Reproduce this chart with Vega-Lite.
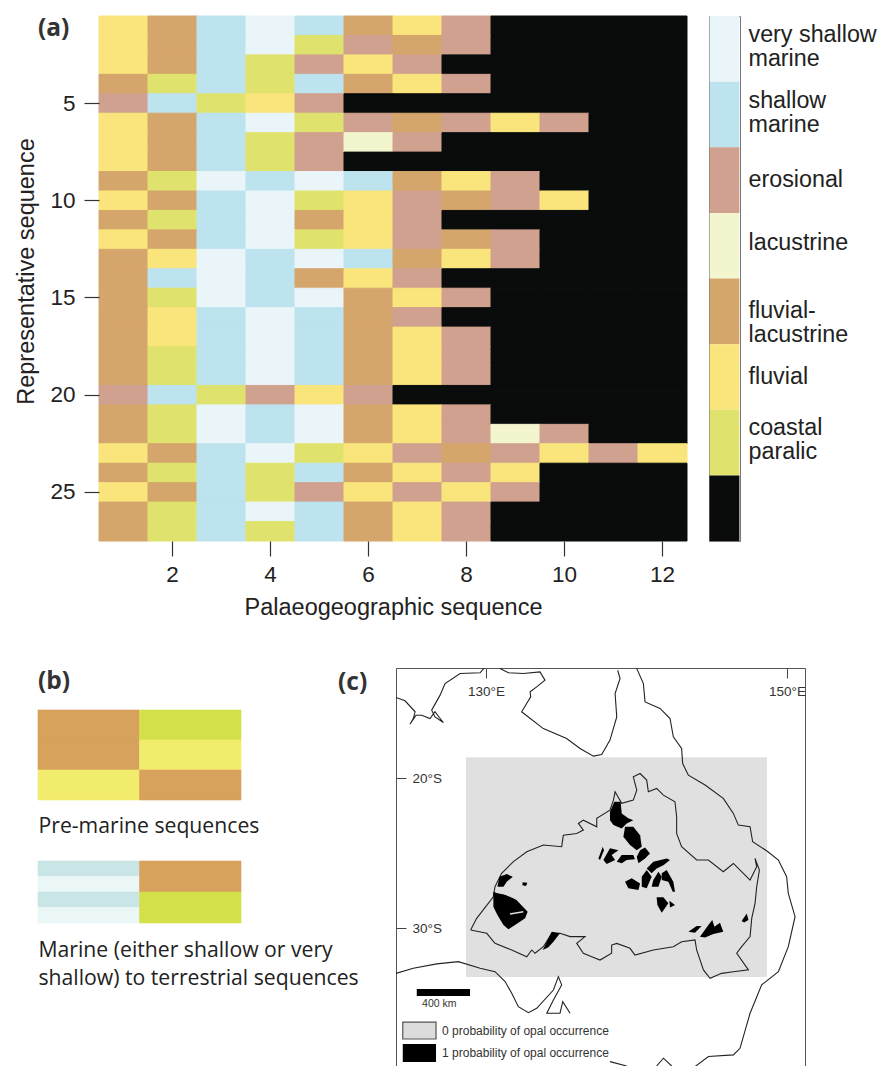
{"$schema":"https://vega.github.io/schema/vega-lite/v6.json","background":"white","padding":{"left":14,"top":15,"right":0,"bottom":0},"spacing":48,"config":{"view":{"stroke":null},"font":"Liberation Sans"},
"datasets":{"heat":[
{"x":1,"y":1,"c":"Y"},{"x":2,"y":1,"c":"T"},{"x":3,"y":1,"c":"S"},{"x":4,"y":1,"c":"V"},{"x":5,"y":1,"c":"S"},{"x":6,"y":1,"c":"T"},{"x":7,"y":1,"c":"Y"},{"x":8,"y":1,"c":"E"},{"x":9,"y":1,"c":"K"},{"x":10,"y":1,"c":"K"},{"x":11,"y":1,"c":"K"},{"x":12,"y":1,"c":"K"},
{"x":1,"y":2,"c":"Y"},{"x":2,"y":2,"c":"T"},{"x":3,"y":2,"c":"S"},{"x":4,"y":2,"c":"V"},{"x":5,"y":2,"c":"C"},{"x":6,"y":2,"c":"E"},{"x":7,"y":2,"c":"T"},{"x":8,"y":2,"c":"E"},{"x":9,"y":2,"c":"K"},{"x":10,"y":2,"c":"K"},{"x":11,"y":2,"c":"K"},{"x":12,"y":2,"c":"K"},
{"x":1,"y":3,"c":"Y"},{"x":2,"y":3,"c":"T"},{"x":3,"y":3,"c":"S"},{"x":4,"y":3,"c":"C"},{"x":5,"y":3,"c":"E"},{"x":6,"y":3,"c":"Y"},{"x":7,"y":3,"c":"E"},{"x":8,"y":3,"c":"K"},{"x":9,"y":3,"c":"K"},{"x":10,"y":3,"c":"K"},{"x":11,"y":3,"c":"K"},{"x":12,"y":3,"c":"K"},
{"x":1,"y":4,"c":"T"},{"x":2,"y":4,"c":"C"},{"x":3,"y":4,"c":"S"},{"x":4,"y":4,"c":"C"},{"x":5,"y":4,"c":"S"},{"x":6,"y":4,"c":"T"},{"x":7,"y":4,"c":"Y"},{"x":8,"y":4,"c":"E"},{"x":9,"y":4,"c":"K"},{"x":10,"y":4,"c":"K"},{"x":11,"y":4,"c":"K"},{"x":12,"y":4,"c":"K"},
{"x":1,"y":5,"c":"E"},{"x":2,"y":5,"c":"S"},{"x":3,"y":5,"c":"C"},{"x":4,"y":5,"c":"Y"},{"x":5,"y":5,"c":"E"},{"x":6,"y":5,"c":"K"},{"x":7,"y":5,"c":"K"},{"x":8,"y":5,"c":"K"},{"x":9,"y":5,"c":"K"},{"x":10,"y":5,"c":"K"},{"x":11,"y":5,"c":"K"},{"x":12,"y":5,"c":"K"},
{"x":1,"y":6,"c":"Y"},{"x":2,"y":6,"c":"T"},{"x":3,"y":6,"c":"S"},{"x":4,"y":6,"c":"V"},{"x":5,"y":6,"c":"C"},{"x":6,"y":6,"c":"E"},{"x":7,"y":6,"c":"T"},{"x":8,"y":6,"c":"E"},{"x":9,"y":6,"c":"Y"},{"x":10,"y":6,"c":"E"},{"x":11,"y":6,"c":"K"},{"x":12,"y":6,"c":"K"},
{"x":1,"y":7,"c":"Y"},{"x":2,"y":7,"c":"T"},{"x":3,"y":7,"c":"S"},{"x":4,"y":7,"c":"C"},{"x":5,"y":7,"c":"E"},{"x":6,"y":7,"c":"L"},{"x":7,"y":7,"c":"E"},{"x":8,"y":7,"c":"K"},{"x":9,"y":7,"c":"K"},{"x":10,"y":7,"c":"K"},{"x":11,"y":7,"c":"K"},{"x":12,"y":7,"c":"K"},
{"x":1,"y":8,"c":"Y"},{"x":2,"y":8,"c":"T"},{"x":3,"y":8,"c":"S"},{"x":4,"y":8,"c":"C"},{"x":5,"y":8,"c":"E"},{"x":6,"y":8,"c":"K"},{"x":7,"y":8,"c":"K"},{"x":8,"y":8,"c":"K"},{"x":9,"y":8,"c":"K"},{"x":10,"y":8,"c":"K"},{"x":11,"y":8,"c":"K"},{"x":12,"y":8,"c":"K"},
{"x":1,"y":9,"c":"T"},{"x":2,"y":9,"c":"C"},{"x":3,"y":9,"c":"V"},{"x":4,"y":9,"c":"S"},{"x":5,"y":9,"c":"V"},{"x":6,"y":9,"c":"S"},{"x":7,"y":9,"c":"T"},{"x":8,"y":9,"c":"Y"},{"x":9,"y":9,"c":"E"},{"x":10,"y":9,"c":"K"},{"x":11,"y":9,"c":"K"},{"x":12,"y":9,"c":"K"},
{"x":1,"y":10,"c":"Y"},{"x":2,"y":10,"c":"T"},{"x":3,"y":10,"c":"S"},{"x":4,"y":10,"c":"V"},{"x":5,"y":10,"c":"C"},{"x":6,"y":10,"c":"Y"},{"x":7,"y":10,"c":"E"},{"x":8,"y":10,"c":"T"},{"x":9,"y":10,"c":"E"},{"x":10,"y":10,"c":"Y"},{"x":11,"y":10,"c":"K"},{"x":12,"y":10,"c":"K"},
{"x":1,"y":11,"c":"T"},{"x":2,"y":11,"c":"C"},{"x":3,"y":11,"c":"S"},{"x":4,"y":11,"c":"V"},{"x":5,"y":11,"c":"T"},{"x":6,"y":11,"c":"Y"},{"x":7,"y":11,"c":"E"},{"x":8,"y":11,"c":"K"},{"x":9,"y":11,"c":"K"},{"x":10,"y":11,"c":"K"},{"x":11,"y":11,"c":"K"},{"x":12,"y":11,"c":"K"},
{"x":1,"y":12,"c":"Y"},{"x":2,"y":12,"c":"T"},{"x":3,"y":12,"c":"S"},{"x":4,"y":12,"c":"V"},{"x":5,"y":12,"c":"C"},{"x":6,"y":12,"c":"Y"},{"x":7,"y":12,"c":"E"},{"x":8,"y":12,"c":"T"},{"x":9,"y":12,"c":"E"},{"x":10,"y":12,"c":"K"},{"x":11,"y":12,"c":"K"},{"x":12,"y":12,"c":"K"},
{"x":1,"y":13,"c":"T"},{"x":2,"y":13,"c":"Y"},{"x":3,"y":13,"c":"V"},{"x":4,"y":13,"c":"S"},{"x":5,"y":13,"c":"V"},{"x":6,"y":13,"c":"S"},{"x":7,"y":13,"c":"T"},{"x":8,"y":13,"c":"Y"},{"x":9,"y":13,"c":"E"},{"x":10,"y":13,"c":"K"},{"x":11,"y":13,"c":"K"},{"x":12,"y":13,"c":"K"},
{"x":1,"y":14,"c":"T"},{"x":2,"y":14,"c":"S"},{"x":3,"y":14,"c":"V"},{"x":4,"y":14,"c":"S"},{"x":5,"y":14,"c":"T"},{"x":6,"y":14,"c":"Y"},{"x":7,"y":14,"c":"E"},{"x":8,"y":14,"c":"K"},{"x":9,"y":14,"c":"K"},{"x":10,"y":14,"c":"K"},{"x":11,"y":14,"c":"K"},{"x":12,"y":14,"c":"K"},
{"x":1,"y":15,"c":"T"},{"x":2,"y":15,"c":"C"},{"x":3,"y":15,"c":"V"},{"x":4,"y":15,"c":"S"},{"x":5,"y":15,"c":"V"},{"x":6,"y":15,"c":"T"},{"x":7,"y":15,"c":"Y"},{"x":8,"y":15,"c":"E"},{"x":9,"y":15,"c":"K"},{"x":10,"y":15,"c":"K"},{"x":11,"y":15,"c":"K"},{"x":12,"y":15,"c":"K"},
{"x":1,"y":16,"c":"T"},{"x":2,"y":16,"c":"Y"},{"x":3,"y":16,"c":"S"},{"x":4,"y":16,"c":"V"},{"x":5,"y":16,"c":"S"},{"x":6,"y":16,"c":"T"},{"x":7,"y":16,"c":"E"},{"x":8,"y":16,"c":"K"},{"x":9,"y":16,"c":"K"},{"x":10,"y":16,"c":"K"},{"x":11,"y":16,"c":"K"},{"x":12,"y":16,"c":"K"},
{"x":1,"y":17,"c":"T"},{"x":2,"y":17,"c":"Y"},{"x":3,"y":17,"c":"S"},{"x":4,"y":17,"c":"V"},{"x":5,"y":17,"c":"S"},{"x":6,"y":17,"c":"T"},{"x":7,"y":17,"c":"Y"},{"x":8,"y":17,"c":"E"},{"x":9,"y":17,"c":"K"},{"x":10,"y":17,"c":"K"},{"x":11,"y":17,"c":"K"},{"x":12,"y":17,"c":"K"},
{"x":1,"y":18,"c":"T"},{"x":2,"y":18,"c":"C"},{"x":3,"y":18,"c":"S"},{"x":4,"y":18,"c":"V"},{"x":5,"y":18,"c":"S"},{"x":6,"y":18,"c":"T"},{"x":7,"y":18,"c":"Y"},{"x":8,"y":18,"c":"E"},{"x":9,"y":18,"c":"K"},{"x":10,"y":18,"c":"K"},{"x":11,"y":18,"c":"K"},{"x":12,"y":18,"c":"K"},
{"x":1,"y":19,"c":"T"},{"x":2,"y":19,"c":"C"},{"x":3,"y":19,"c":"S"},{"x":4,"y":19,"c":"V"},{"x":5,"y":19,"c":"S"},{"x":6,"y":19,"c":"T"},{"x":7,"y":19,"c":"Y"},{"x":8,"y":19,"c":"E"},{"x":9,"y":19,"c":"K"},{"x":10,"y":19,"c":"K"},{"x":11,"y":19,"c":"K"},{"x":12,"y":19,"c":"K"},
{"x":1,"y":20,"c":"E"},{"x":2,"y":20,"c":"S"},{"x":3,"y":20,"c":"C"},{"x":4,"y":20,"c":"E"},{"x":5,"y":20,"c":"Y"},{"x":6,"y":20,"c":"E"},{"x":7,"y":20,"c":"K"},{"x":8,"y":20,"c":"K"},{"x":9,"y":20,"c":"K"},{"x":10,"y":20,"c":"K"},{"x":11,"y":20,"c":"K"},{"x":12,"y":20,"c":"K"},
{"x":1,"y":21,"c":"T"},{"x":2,"y":21,"c":"C"},{"x":3,"y":21,"c":"V"},{"x":4,"y":21,"c":"S"},{"x":5,"y":21,"c":"V"},{"x":6,"y":21,"c":"T"},{"x":7,"y":21,"c":"Y"},{"x":8,"y":21,"c":"E"},{"x":9,"y":21,"c":"K"},{"x":10,"y":21,"c":"K"},{"x":11,"y":21,"c":"K"},{"x":12,"y":21,"c":"K"},
{"x":1,"y":22,"c":"T"},{"x":2,"y":22,"c":"C"},{"x":3,"y":22,"c":"V"},{"x":4,"y":22,"c":"S"},{"x":5,"y":22,"c":"V"},{"x":6,"y":22,"c":"T"},{"x":7,"y":22,"c":"Y"},{"x":8,"y":22,"c":"E"},{"x":9,"y":22,"c":"L"},{"x":10,"y":22,"c":"E"},{"x":11,"y":22,"c":"K"},{"x":12,"y":22,"c":"K"},
{"x":1,"y":23,"c":"Y"},{"x":2,"y":23,"c":"T"},{"x":3,"y":23,"c":"S"},{"x":4,"y":23,"c":"V"},{"x":5,"y":23,"c":"C"},{"x":6,"y":23,"c":"Y"},{"x":7,"y":23,"c":"E"},{"x":8,"y":23,"c":"T"},{"x":9,"y":23,"c":"E"},{"x":10,"y":23,"c":"Y"},{"x":11,"y":23,"c":"E"},{"x":12,"y":23,"c":"Y"},
{"x":1,"y":24,"c":"T"},{"x":2,"y":24,"c":"C"},{"x":3,"y":24,"c":"S"},{"x":4,"y":24,"c":"C"},{"x":5,"y":24,"c":"S"},{"x":6,"y":24,"c":"T"},{"x":7,"y":24,"c":"Y"},{"x":8,"y":24,"c":"E"},{"x":9,"y":24,"c":"Y"},{"x":10,"y":24,"c":"K"},{"x":11,"y":24,"c":"K"},{"x":12,"y":24,"c":"K"},
{"x":1,"y":25,"c":"Y"},{"x":2,"y":25,"c":"T"},{"x":3,"y":25,"c":"S"},{"x":4,"y":25,"c":"C"},{"x":5,"y":25,"c":"E"},{"x":6,"y":25,"c":"Y"},{"x":7,"y":25,"c":"E"},{"x":8,"y":25,"c":"Y"},{"x":9,"y":25,"c":"E"},{"x":10,"y":25,"c":"K"},{"x":11,"y":25,"c":"K"},{"x":12,"y":25,"c":"K"},
{"x":1,"y":26,"c":"T"},{"x":2,"y":26,"c":"C"},{"x":3,"y":26,"c":"S"},{"x":4,"y":26,"c":"V"},{"x":5,"y":26,"c":"S"},{"x":6,"y":26,"c":"T"},{"x":7,"y":26,"c":"Y"},{"x":8,"y":26,"c":"E"},{"x":9,"y":26,"c":"K"},{"x":10,"y":26,"c":"K"},{"x":11,"y":26,"c":"K"},{"x":12,"y":26,"c":"K"},
{"x":1,"y":27,"c":"T"},{"x":2,"y":27,"c":"C"},{"x":3,"y":27,"c":"S"},{"x":4,"y":27,"c":"C"},{"x":5,"y":27,"c":"S"},{"x":6,"y":27,"c":"T"},{"x":7,"y":27,"c":"Y"},{"x":8,"y":27,"c":"E"},{"x":9,"y":27,"c":"K"},{"x":10,"y":27,"c":"K"},{"x":11,"y":27,"c":"K"},{"x":12,"y":27,"c":"K"}
],
"lines":[
{"s":"a","i":1,"lon":124.02,"lat":-14.62},{"s":"a","i":2,"lon":124.62,"lat":-14.84},{"s":"a","i":3,"lon":125.29,"lat":-15.57},{"s":"a","i":4,"lon":125.17,"lat":-16.02},{"s":"a","i":5,"lon":124.95,"lat":-16.4},{"s":"a","i":6,"lon":125.35,"lat":-15.8},{"s":"a","i":7,"lon":125.73,"lat":-15.8},{"s":"a","i":8,"lon":126.28,"lat":-16.02},{"s":"a","i":9,"lon":126.61,"lat":-15.57},{"s":"a","i":10,"lon":126.9,"lat":-15.95},{"s":"a","i":11,"lon":127.17,"lat":-16.29},{"s":"a","i":12,"lon":126.61,"lat":-15.91},{"s":"a","i":13,"lon":126.39,"lat":-15.46},{"s":"a","i":14,"lon":126.95,"lat":-14.46},{"s":"a","i":15,"lon":127.28,"lat":-13.69},{"s":"a","i":16,"lon":128.28,"lat":-13.02},{"s":"a","i":17,"lon":129.61,"lat":-12.97},{"s":"a","i":18,"lon":129.87,"lat":-12.66},
{"s":"b","i":1,"lon":130.93,"lat":-12.69},{"s":"b","i":2,"lon":131.49,"lat":-12.97},{"s":"b","i":3,"lon":132.48,"lat":-13.02},{"s":"b","i":4,"lon":133.59,"lat":-12.91},{"s":"b","i":5,"lon":133.92,"lat":-13.46},{"s":"b","i":6,"lon":133.37,"lat":-13.91},{"s":"b","i":7,"lon":132.93,"lat":-14.24},{"s":"b","i":8,"lon":132.97,"lat":-14.57},{"s":"b","i":9,"lon":132.37,"lat":-15.57},{"s":"b","i":10,"lon":133.81,"lat":-16.69},{"s":"b","i":11,"lon":135.36,"lat":-17.35},{"s":"b","i":12,"lon":136.25,"lat":-18.02},{"s":"b","i":13,"lon":137.14,"lat":-18.53},{"s":"b","i":14,"lon":137.69,"lat":-18.42},{"s":"b","i":15,"lon":138.24,"lat":-17.46},{"s":"b","i":16,"lon":138.69,"lat":-15.91},{"s":"b","i":17,"lon":138.58,"lat":-14.35},{"s":"b","i":18,"lon":138.91,"lat":-13.35},{"s":"b","i":19,"lon":138.75,"lat":-12.8},
{"s":"c","i":1,"lon":140.02,"lat":-12.69},{"s":"c","i":2,"lon":140.46,"lat":-13.69},{"s":"c","i":3,"lon":140.57,"lat":-14.91},{"s":"c","i":4,"lon":141.57,"lat":-15.35},{"s":"c","i":5,"lon":142.23,"lat":-16.02},{"s":"c","i":6,"lon":142.45,"lat":-17.24},{"s":"c","i":7,"lon":143.0,"lat":-18.02},{"s":"c","i":8,"lon":143.07,"lat":-19.02},{"s":"c","i":9,"lon":143.45,"lat":-19.8},{"s":"c","i":10,"lon":144.56,"lat":-20.46},{"s":"c","i":11,"lon":145.77,"lat":-21.35},{"s":"c","i":12,"lon":146.44,"lat":-22.35},{"s":"c","i":13,"lon":146.77,"lat":-23.13},{"s":"c","i":14,"lon":147.55,"lat":-23.24},{"s":"c","i":15,"lon":147.72,"lat":-24.24},{"s":"c","i":16,"lon":148.65,"lat":-24.84},{"s":"c","i":17,"lon":149.43,"lat":-25.46},{"s":"c","i":18,"lon":149.98,"lat":-26.57},{"s":"c","i":19,"lon":150.09,"lat":-27.68},{"s":"c","i":20,"lon":150.54,"lat":-29.24},{"s":"c","i":21,"lon":150.09,"lat":-31.24},{"s":"c","i":22,"lon":149.43,"lat":-32.91},{"s":"c","i":23,"lon":148.32,"lat":-33.79},{"s":"c","i":24,"lon":147.55,"lat":-35.68},{"s":"c","i":25,"lon":146.88,"lat":-38.02},{"s":"c","i":26,"lon":146.44,"lat":-38.46},{"s":"c","i":27,"lon":144.78,"lat":-38.57},{"s":"c","i":28,"lon":143.89,"lat":-39.24},
{"s":"d","i":1,"lon":124.02,"lat":-33.02},{"s":"d","i":2,"lon":125.17,"lat":-32.68},{"s":"d","i":3,"lon":126.73,"lat":-32.39},{"s":"d","i":4,"lon":128.17,"lat":-32.24},{"s":"d","i":5,"lon":129.61,"lat":-32.68},{"s":"d","i":6,"lon":130.6,"lat":-32.91},{"s":"d","i":7,"lon":131.27,"lat":-33.57},{"s":"d","i":8,"lon":131.71,"lat":-34.35},{"s":"d","i":9,"lon":132.15,"lat":-35.24},{"s":"d","i":10,"lon":132.82,"lat":-35.64},{"s":"d","i":11,"lon":133.37,"lat":-35.35},{"s":"d","i":12,"lon":134.48,"lat":-34.13},{"s":"d","i":13,"lon":134.81,"lat":-33.24},{"s":"d","i":14,"lon":135.03,"lat":-33.79},{"s":"d","i":15,"lon":134.48,"lat":-34.8},{"s":"d","i":16,"lon":134.04,"lat":-35.68},{"s":"d","i":17,"lon":134.92,"lat":-35.68},{"s":"d","i":18,"lon":135.1,"lat":-34.91},{"s":"d","i":19,"lon":135.59,"lat":-35.68},
{"s":"e","i":1,"lon":138.24,"lat":-38.91},{"s":"e","i":2,"lon":139.35,"lat":-39.2},
{"s":"f","i":1,"lon":141.34,"lat":-39.2},{"s":"f","i":2,"lon":141.79,"lat":-38.68},{"s":"f","i":3,"lon":142.34,"lat":-39.2},
{"s":"g","i":1,"lon":128.98,"lat":-30.13},{"s":"g","i":2,"lon":129.38,"lat":-29.35},{"s":"g","i":3,"lon":130.49,"lat":-27.91},{"s":"g","i":4,"lon":130.6,"lat":-27.24},{"s":"g","i":5,"lon":131.04,"lat":-26.35},{"s":"g","i":6,"lon":131.82,"lat":-25.57},{"s":"g","i":7,"lon":132.71,"lat":-24.91},{"s":"g","i":8,"lon":133.81,"lat":-24.46},{"s":"g","i":9,"lon":135.03,"lat":-24.57},{"s":"g","i":10,"lon":135.14,"lat":-23.8},{"s":"g","i":11,"lon":136.03,"lat":-23.69},{"s":"g","i":12,"lon":136.47,"lat":-23.46},{"s":"g","i":13,"lon":136.14,"lat":-23.02},{"s":"g","i":14,"lon":136.47,"lat":-22.8},{"s":"g","i":15,"lon":137.36,"lat":-23.24},{"s":"g","i":16,"lon":137.36,"lat":-22.68},{"s":"g","i":17,"lon":138.24,"lat":-22.13},{"s":"g","i":18,"lon":138.47,"lat":-21.46},{"s":"g","i":19,"lon":138.58,"lat":-20.91},{"s":"g","i":20,"lon":139.02,"lat":-21.68},{"s":"g","i":21,"lon":139.79,"lat":-21.46},{"s":"g","i":22,"lon":140.02,"lat":-20.8},{"s":"g","i":23,"lon":139.79,"lat":-19.91},{"s":"g","i":24,"lon":140.24,"lat":-19.69},{"s":"g","i":25,"lon":140.68,"lat":-20.13},{"s":"g","i":26,"lon":140.79,"lat":-20.91},{"s":"g","i":27,"lon":141.34,"lat":-20.68},{"s":"g","i":28,"lon":141.79,"lat":-21.13},{"s":"g","i":29,"lon":142.56,"lat":-21.57},{"s":"g","i":30,"lon":142.67,"lat":-22.57},{"s":"g","i":31,"lon":142.67,"lat":-23.69},{"s":"g","i":32,"lon":143.0,"lat":-24.57},{"s":"g","i":33,"lon":144.0,"lat":-25.46},{"s":"g","i":34,"lon":144.78,"lat":-25.46},{"s":"g","i":35,"lon":145.77,"lat":-26.24},{"s":"g","i":36,"lon":146.44,"lat":-25.69},{"s":"g","i":37,"lon":147.1,"lat":-26.35},{"s":"g","i":38,"lon":147.55,"lat":-26.8},{"s":"g","i":39,"lon":147.99,"lat":-25.91},{"s":"g","i":40,"lon":147.88,"lat":-25.35},{"s":"g","i":41,"lon":148.17,"lat":-26.13},{"s":"g","i":42,"lon":147.99,"lat":-27.24},{"s":"g","i":43,"lon":147.88,"lat":-28.35},{"s":"g","i":44,"lon":147.66,"lat":-29.35},{"s":"g","i":45,"lon":147.55,"lat":-30.57},{"s":"g","i":46,"lon":146.99,"lat":-31.24},{"s":"g","i":47,"lon":146.66,"lat":-31.68},{"s":"g","i":48,"lon":147.44,"lat":-32.79},{"s":"g","i":49,"lon":146.44,"lat":-32.91},{"s":"g","i":50,"lon":145.66,"lat":-33.02},{"s":"g","i":51,"lon":144.89,"lat":-33.35},{"s":"g","i":52,"lon":144.45,"lat":-32.79},{"s":"g","i":53,"lon":144.0,"lat":-31.46},{"s":"g","i":54,"lon":143.89,"lat":-30.79},{"s":"g","i":55,"lon":143.0,"lat":-30.91},{"s":"g","i":56,"lon":142.45,"lat":-31.24},{"s":"g","i":57,"lon":141.12,"lat":-31.46},{"s":"g","i":58,"lon":139.9,"lat":-31.8},{"s":"g","i":59,"lon":139.57,"lat":-31.35},{"s":"g","i":60,"lon":138.69,"lat":-31.02},{"s":"g","i":61,"lon":138.35,"lat":-31.13},{"s":"g","i":62,"lon":138.35,"lat":-31.68},{"s":"g","i":63,"lon":137.58,"lat":-32.13},{"s":"g","i":64,"lon":137.03,"lat":-31.91},{"s":"g","i":65,"lon":136.47,"lat":-31.68},{"s":"g","i":66,"lon":136.03,"lat":-31.02},{"s":"g","i":67,"lon":136.58,"lat":-30.57},{"s":"g","i":68,"lon":135.59,"lat":-30.57},{"s":"g","i":69,"lon":134.92,"lat":-30.35},{"s":"g","i":70,"lon":134.37,"lat":-30.35},{"s":"g","i":71,"lon":133.81,"lat":-31.24},{"s":"g","i":72,"lon":133.26,"lat":-31.68},{"s":"g","i":73,"lon":133.04,"lat":-31.46},{"s":"g","i":74,"lon":132.71,"lat":-31.91},{"s":"g","i":75,"lon":131.71,"lat":-31.46},{"s":"g","i":76,"lon":130.6,"lat":-31.02},{"s":"g","i":77,"lon":130.05,"lat":-30.35},{"s":"g","i":78,"lon":128.98,"lat":-30.13}
],
"opal":[
{"s":"p1","i":1,"lon":130.49,"lat":-27.57},{"s":"p1","i":2,"lon":130.76,"lat":-27.68},{"s":"p1","i":3,"lon":131.38,"lat":-27.8},{"s":"p1","i":4,"lon":131.93,"lat":-28.02},{"s":"p1","i":5,"lon":132.77,"lat":-28.91},{"s":"p1","i":6,"lon":132.6,"lat":-29.35},{"s":"p1","i":7,"lon":131.93,"lat":-29.8},{"s":"p1","i":8,"lon":131.49,"lat":-30.08},{"s":"p1","i":9,"lon":131.16,"lat":-29.8},{"s":"p1","i":10,"lon":130.76,"lat":-29.13},{"s":"p1","i":11,"lon":130.49,"lat":-28.57},
{"s":"p2","i":1,"lon":130.89,"lat":-26.57},{"s":"p2","i":2,"lon":131.38,"lat":-26.4},{"s":"p2","i":3,"lon":131.78,"lat":-26.57},{"s":"p2","i":4,"lon":131.38,"lat":-26.91},{"s":"p2","i":5,"lon":131.16,"lat":-27.24},{"s":"p2","i":6,"lon":130.76,"lat":-27.24},
{"s":"p2b","i":1,"lon":132.44,"lat":-26.95},{"s":"p2b","i":2,"lon":132.75,"lat":-26.97},{"s":"p2b","i":3,"lon":132.66,"lat":-27.2},{"s":"p2b","i":4,"lon":132.42,"lat":-27.15},
{"s":"p3","i":1,"lon":138.24,"lat":-22.24},{"s":"p3","i":2,"lon":138.53,"lat":-21.57},{"s":"p3","i":3,"lon":138.95,"lat":-21.57},{"s":"p3","i":4,"lon":139.02,"lat":-22.35},{"s":"p3","i":5,"lon":139.46,"lat":-22.68},{"s":"p3","i":6,"lon":139.79,"lat":-22.8},{"s":"p3","i":7,"lon":139.35,"lat":-23.02},{"s":"p3","i":8,"lon":139.02,"lat":-23.35},{"s":"p3","i":9,"lon":138.47,"lat":-23.13},{"s":"p3","i":10,"lon":138.24,"lat":-22.8},
{"s":"p4","i":1,"lon":139.24,"lat":-23.24},{"s":"p4","i":2,"lon":139.79,"lat":-23.24},{"s":"p4","i":3,"lon":140.24,"lat":-23.8},{"s":"p4","i":4,"lon":140.35,"lat":-24.57},{"s":"p4","i":5,"lon":140.02,"lat":-24.8},{"s":"p4","i":6,"lon":139.57,"lat":-24.46},{"s":"p4","i":7,"lon":139.13,"lat":-23.91},
{"s":"p5","i":1,"lon":140.24,"lat":-24.8},{"s":"p5","i":2,"lon":140.57,"lat":-24.62},{"s":"p5","i":3,"lon":140.9,"lat":-25.02},{"s":"p5","i":4,"lon":140.57,"lat":-25.35},{"s":"p5","i":5,"lon":140.13,"lat":-25.68},{"s":"p5","i":6,"lon":140.02,"lat":-25.24},
{"s":"p6","i":1,"lon":137.8,"lat":-25.46},{"s":"p6","i":2,"lon":138.24,"lat":-24.68},{"s":"p6","i":3,"lon":138.8,"lat":-24.8},{"s":"p6","i":4,"lon":138.35,"lat":-25.13},{"s":"p6","i":5,"lon":138.58,"lat":-25.46},{"s":"p6","i":6,"lon":138.02,"lat":-25.73},
{"s":"p7","i":1,"lon":138.69,"lat":-25.57},{"s":"p7","i":2,"lon":139.02,"lat":-25.13},{"s":"p7","i":3,"lon":139.79,"lat":-25.13},{"s":"p7","i":4,"lon":139.9,"lat":-25.4},{"s":"p7","i":5,"lon":139.35,"lat":-25.46},{"s":"p7","i":6,"lon":139.02,"lat":-25.68},
{"s":"p8","i":1,"lon":137.47,"lat":-25.35},{"s":"p8","i":2,"lon":137.76,"lat":-24.57},{"s":"p8","i":3,"lon":137.84,"lat":-24.8},{"s":"p8","i":4,"lon":137.58,"lat":-25.46},
{"s":"p9","i":1,"lon":140.68,"lat":-26.02},{"s":"p9","i":2,"lon":141.12,"lat":-25.57},{"s":"p9","i":3,"lon":142.01,"lat":-25.35},{"s":"p9","i":4,"lon":142.23,"lat":-25.46},{"s":"p9","i":5,"lon":141.79,"lat":-25.8},{"s":"p9","i":6,"lon":141.34,"lat":-26.02},{"s":"p9","i":7,"lon":141.01,"lat":-26.35},
{"s":"p10","i":1,"lon":139.24,"lat":-26.91},{"s":"p10","i":2,"lon":139.68,"lat":-26.68},{"s":"p10","i":3,"lon":140.24,"lat":-27.02},{"s":"p10","i":4,"lon":140.13,"lat":-27.46},{"s":"p10","i":5,"lon":139.46,"lat":-27.35},
{"s":"p11","i":1,"lon":140.35,"lat":-26.57},{"s":"p11","i":2,"lon":140.68,"lat":-26.13},{"s":"p11","i":3,"lon":141.01,"lat":-26.57},{"s":"p11","i":4,"lon":140.68,"lat":-27.35},{"s":"p11","i":5,"lon":140.35,"lat":-27.24},
{"s":"p12","i":1,"lon":141.12,"lat":-26.8},{"s":"p12","i":2,"lon":141.46,"lat":-26.24},{"s":"p12","i":3,"lon":141.68,"lat":-26.57},{"s":"p12","i":4,"lon":141.46,"lat":-27.24},{"s":"p12","i":5,"lon":141.01,"lat":-27.24},
{"s":"p13","i":1,"lon":141.68,"lat":-26.35},{"s":"p13","i":2,"lon":142.01,"lat":-26.13},{"s":"p13","i":3,"lon":142.45,"lat":-26.91},{"s":"p13","i":4,"lon":142.56,"lat":-27.57},{"s":"p13","i":5,"lon":142.41,"lat":-27.57},{"s":"p13","i":6,"lon":142.12,"lat":-26.91},{"s":"p13","i":7,"lon":141.68,"lat":-26.8},
{"s":"p15","i":1,"lon":141.34,"lat":-27.95},{"s":"p15","i":2,"lon":141.79,"lat":-27.95},{"s":"p15","i":3,"lon":142.12,"lat":-28.35},{"s":"p15","i":4,"lon":141.68,"lat":-28.97},{"s":"p15","i":5,"lon":141.39,"lat":-28.46},
{"s":"p16","i":1,"lon":142.19,"lat":-28.17},{"s":"p16","i":2,"lon":142.56,"lat":-28.46},{"s":"p16","i":3,"lon":142.23,"lat":-28.62},
{"s":"p17","i":1,"lon":143.45,"lat":-30.24},{"s":"p17","i":2,"lon":144.0,"lat":-29.86},{"s":"p17","i":3,"lon":144.33,"lat":-29.86},{"s":"p17","i":4,"lon":143.89,"lat":-30.31},
{"s":"p18","i":1,"lon":144.22,"lat":-30.57},{"s":"p18","i":2,"lon":144.78,"lat":-29.8},{"s":"p18","i":3,"lon":145.04,"lat":-29.46},{"s":"p18","i":4,"lon":145.18,"lat":-29.91},{"s":"p18","i":5,"lon":145.55,"lat":-29.64},{"s":"p18","i":6,"lon":145.77,"lat":-30.24},{"s":"p18","i":7,"lon":145.11,"lat":-30.4},{"s":"p18","i":8,"lon":144.56,"lat":-30.62},
{"s":"p19","i":1,"lon":146.99,"lat":-29.53},{"s":"p19","i":2,"lon":147.33,"lat":-29.02},{"s":"p19","i":3,"lon":147.44,"lat":-29.46},{"s":"p19","i":4,"lon":147.15,"lat":-29.62},
{"s":"p20","i":1,"lon":133.77,"lat":-31.46},{"s":"p20","i":2,"lon":134.37,"lat":-30.24},{"s":"p20","i":3,"lon":134.92,"lat":-30.35},{"s":"p20","i":4,"lon":134.48,"lat":-30.91},{"s":"p20","i":5,"lon":134.15,"lat":-31.28}
]},
"vconcat":[
{"hconcat":[
{"width":61,"height":1,"data":{"values":[]},"mark":"text","encoding":{}},
{"hconcat":[
{"width":588,"height":525,"data":{"name":"heat"},"title":{"text":"(a)","anchor":"start","frame":"group","dx":-61,"dy":38,"offset":0,"baseline":"middle","font":"Open Sans","fontSize":24.5,"fontWeight":"bold","color":"#333333"},
"mark":{"type":"rect","strokeWidth":1},
"encoding":{
"x":{"field":"x","type":"ordinal","scale":{"paddingInner":0,"paddingOuter":0},"axis":{"values":[2,4,6,8,10,12],"labelAngle":0,"title":"Palaeogeographic sequence","tickSize":15,"tickColor":"#333333","tickWidth":1.2,"domain":false,"labelFontSize":22.5,"labelPadding":7,"labelColor":"#222222","titleFontSize":23.5,"titleFontWeight":"normal","titlePadding":10,"titleColor":"#222222"}},
"y":{"field":"y","type":"ordinal","scale":{"paddingInner":0,"paddingOuter":0},"axis":{"values":[5,10,15,20,25],"title":"Representative sequence","titleY":255,"tickSize":15,"tickColor":"#333333","tickWidth":1.2,"domain":false,"labelFontSize":22.5,"labelPadding":9,"labelColor":"#222222","labelAngle":0,"titleFontSize":23.5,"titleFontWeight":"normal","titlePadding":11,"titleColor":"#222222"}},
"color":{"field":"c","type":"nominal","legend":null,"scale":{"domain":["V","S","E","L","T","Y","C","K","bT","bY","bC","bS","bV"],"range":["#E9F5F8","#BDE3EE","#D0A18F","#F3F5CE","#D5A66C","#F9E57B","#DFE36D","#0A0C0C","#D7A25C","#F2EC6C","#D3E04A","#C9E5E5","#EBF6F6"]}},
"stroke":{"field":"c","type":"nominal","legend":null,"scale":{"domain":["V","S","E","L","T","Y","C","K","bT","bY","bC","bS","bV"],"range":["#E9F5F8","#BDE3EE","#D0A18F","#F3F5CE","#D5A66C","#F9E57B","#DFE36D","#0A0C0C","#D7A25C","#F2EC6C","#D3E04A","#C9E5E5","#EBF6F6"]}}
}},
{"width":31,"height":525,"view":{"stroke":"#777777","strokeWidth":1},
"data":{"values":[{"name":"very shallow marine","c":"V","k":"bar"},{"name":"shallow marine","c":"S","k":"bar"},{"name":"erosional","c":"E","k":"bar"},{"name":"lacustrine","c":"L","k":"bar"},{"name":"fluvial-lacustrine","c":"T","k":"bar"},{"name":"fluvial","c":"Y","k":"bar"},{"name":"coastal paralic","c":"C","k":"bar"},{"name":"none","c":"K","k":"bar"}]},
"mark":{"type":"rect"},
"encoding":{
"x":{"field":"k","type":"nominal","axis":null,"scale":{"paddingInner":0,"paddingOuter":0.02}},
"y":{"field":"name","type":"ordinal","sort":null,"scale":{"paddingInner":0,"paddingOuter":0},"axis":{"orient":"right","title":null,"ticks":false,"domain":false,"labelFontSize":23.3,"labelColor":"#222222","labelPadding":8,"labelLimit":200,"labelLineHeight":24,"labelAngle":0,"labelExpr":"datum.label=='none'?'':datum.label=='very shallow marine'?['very shallow','marine']:datum.label=='shallow marine'?['shallow','marine']:datum.label=='fluvial-lacustrine'?['fluvial-','lacustrine']:datum.label=='coastal paralic'?['coastal','paralic']:datum.label","labelOffset":{"condition":[{"test":"datum.label=='very shallow marine'","value":-14},{"test":"datum.label=='shallow marine'","value":-13},{"test":"datum.label=='coastal paralic'","value":-15},{"test":"datum.label=='lacustrine'","value":-3}],"value":0}}},
"color":{"field":"c","type":"nominal","legend":null,"sort":null,"scale":{"domain":["V","S","E","L","T","Y","C","K","bT","bY","bC","bS","bV"],"range":["#E9F5F8","#BDE3EE","#D0A18F","#F3F5CE","#D5A66C","#F9E57B","#DFE36D","#0A0C0C","#D7A25C","#F2EC6C","#D3E04A","#C9E5E5","#EBF6F6"]}}
}}
],"bounds":"flush","spacing":22}
],"bounds":"flush","spacing":0},
{"hconcat":[
{"vconcat":[
{"width":1,"height":42,"data":{"values":[]},"mark":"text","encoding":{}},
{"vconcat":[
{"width":203,"height":90,"title":{"text":"(b)","anchor":"start","frame":"group","offset":3,"baseline":"middle","font":"Open Sans","fontSize":24.5,"fontWeight":"bold","color":"#333333"},
"data":{"values":[{"col":1,"row":1,"c":"bT"},{"col":1,"row":2,"c":"bT"},{"col":1,"row":3,"c":"bY"},{"col":2,"row":1,"c":"bC"},{"col":2,"row":2,"c":"bY"},{"col":2,"row":3,"c":"bT"}]},
"mark":{"type":"rect","strokeWidth":0.6},
"encoding":{
"x":{"field":"col","type":"ordinal","scale":{"paddingInner":0,"paddingOuter":0},"axis":{"title":"Pre-marine sequences","labels":false,"ticks":false,"domain":false,"titleFont":"Open Sans","titleFontWeight":"normal","titleFontSize":21.2,"titleColor":"#222222","titleAnchor":"start","titleAlign":"left","titlePadding":15}},
"y":{"field":"row","type":"ordinal","axis":null,"scale":{"paddingInner":0,"paddingOuter":0}},
"color":{"field":"c","type":"nominal","legend":null},
"stroke":{"field":"c","type":"nominal","legend":null}
}},
{"width":203,"height":62,
"data":{"values":[{"col":1,"row":1,"c":"bS"},{"col":1,"row":2,"c":"bV"},{"col":1,"row":3,"c":"bS"},{"col":1,"row":4,"c":"bV"},{"col":2,"row":1,"c":"bT"},{"col":2,"row":2,"c":"bT"},{"col":2,"row":3,"c":"bC"},{"col":2,"row":4,"c":"bC"}]},
"mark":{"type":"rect","strokeWidth":0.6},
"encoding":{
"x":{"field":"col","type":"ordinal","scale":{"paddingInner":0,"paddingOuter":0},"axis":{"title":["Marine (either shallow or very","shallow) to terrestrial sequences"],"titleLineHeight":28,"labels":false,"ticks":false,"domain":false,"titleFont":"Open Sans","titleFontWeight":"normal","titleFontSize":21.2,"titleColor":"#222222","titleAnchor":"start","titleAlign":"left","titlePadding":16}},
"y":{"field":"row","type":"ordinal","axis":null,"scale":{"paddingInner":0,"paddingOuter":0}},
"color":{"field":"c","type":"nominal","legend":null},
"stroke":{"field":"c","type":"nominal","legend":null}
}}
],"bounds":"flush","spacing":61}
],"bounds":"flush","spacing":0},
{"width":409,"height":398,"view":{"stroke":"#555555","strokeWidth":1},"title":{"text":"(c)","anchor":"start","frame":"group","dx":-58,"dy":40,"offset":0,"baseline":"middle","font":"Open Sans","fontSize":24.5,"fontWeight":"bold","color":"#333333"},
"encoding":{
"x":{"field":"lon","type":"quantitative","scale":{"domain":[124.02,151.2],"nice":false,"zero":false},"axis":{"orient":"top","values":[130,150],"title":null,"grid":false,"domain":false,"tickSize":-10,"tickColor":"#444444","labelPadding":-13,"labelBaseline":"middle","labelFontSize":13.5,"labelColor":"#333333","labelExpr":"datum.value+'°E'","labelFlush":false}},
"y":{"field":"lat","type":"quantitative","scale":{"domain":[-39.2,-12.65],"nice":false,"zero":false},"axis":{"values":[-20,-30],"title":null,"grid":false,"domain":false,"tickSize":-10,"tickColor":"#444444","labelPadding":-6,"labelAlign":"left","labelFontSize":13.5,"labelColor":"#333333","labelExpr":"abs(datum.value)+'°S'","labelFlush":false}}
},
"layer":[
{"data":{"values":[{"lon":128.67,"lon2":148.67,"lat":-18.6,"lat2":-33.27}]},"mark":{"type":"rect","color":"#E0E0E0"},"encoding":{"x2":{"field":"lon2"},"y2":{"field":"lat2"}}},
{"data":{"name":"lines"},"mark":{"type":"line","color":"#222222","strokeWidth":1.1,"clip":true},"encoding":{"detail":{"field":"s"},"order":{"field":"i"}}},
{"data":{"name":"opal"},"mark":{"type":"line","color":"#000000","fill":"#000000","filled":true,"strokeWidth":1.4},"encoding":{"detail":{"field":"s"},"order":{"field":"i"}}},
{"data":{"values":[{"s":"w1","i":1,"lon":130.6,"lat":-27.46},{"s":"w1","i":2,"lon":130.93,"lat":-27.57},{"s":"w1","i":3,"lon":132.26,"lat":-28.17},{"s":"w2","i":1,"lon":131.6,"lat":-29.06},{"s":"w2","i":2,"lon":132.48,"lat":-28.91}]},"mark":{"type":"line","color":"#DDDDDD","strokeWidth":1.3},"encoding":{"detail":{"field":"s"},"order":{"field":"i"}}},
{"data":{"values":[{"lon":125.4,"lon2":128.94,"lat":-34.07,"lat2":-34.53},{"lon":124.47,"lon2":126.68,"lat":-37.73,"lat2":-38.93}]},"mark":{"type":"rect","color":"#000000"},"encoding":{"x2":{"field":"lon2"},"y2":{"field":"lat2"}}},
{"data":{"values":[{"lon":124.47,"lon2":126.68,"lat":-36.27,"lat2":-37.4}]},"mark":{"type":"rect","color":"#DCDCDC","stroke":"#555555","strokeWidth":1.2},"encoding":{"x2":{"field":"lon2"},"y2":{"field":"lat2"}}},
{"data":{"values":[{"lon":126.9,"lat":-35.07,"t":"400 km"}]},"mark":{"type":"text","fontSize":10.5,"align":"center","baseline":"middle","color":"#333333"},"encoding":{"text":{"field":"t"}}},
{"data":{"values":[{"lon":127.08,"lat":-36.87,"t":"0 probability of opal occurrence"},{"lon":127.08,"lat":-38.33,"t":"1 probability of opal occurrence"}]},"mark":{"type":"text","fontSize":12,"align":"left","baseline":"middle","color":"#333333"},"encoding":{"text":{"field":"t"}}}
]}
],"bounds":"flush","spacing":358}
]}
